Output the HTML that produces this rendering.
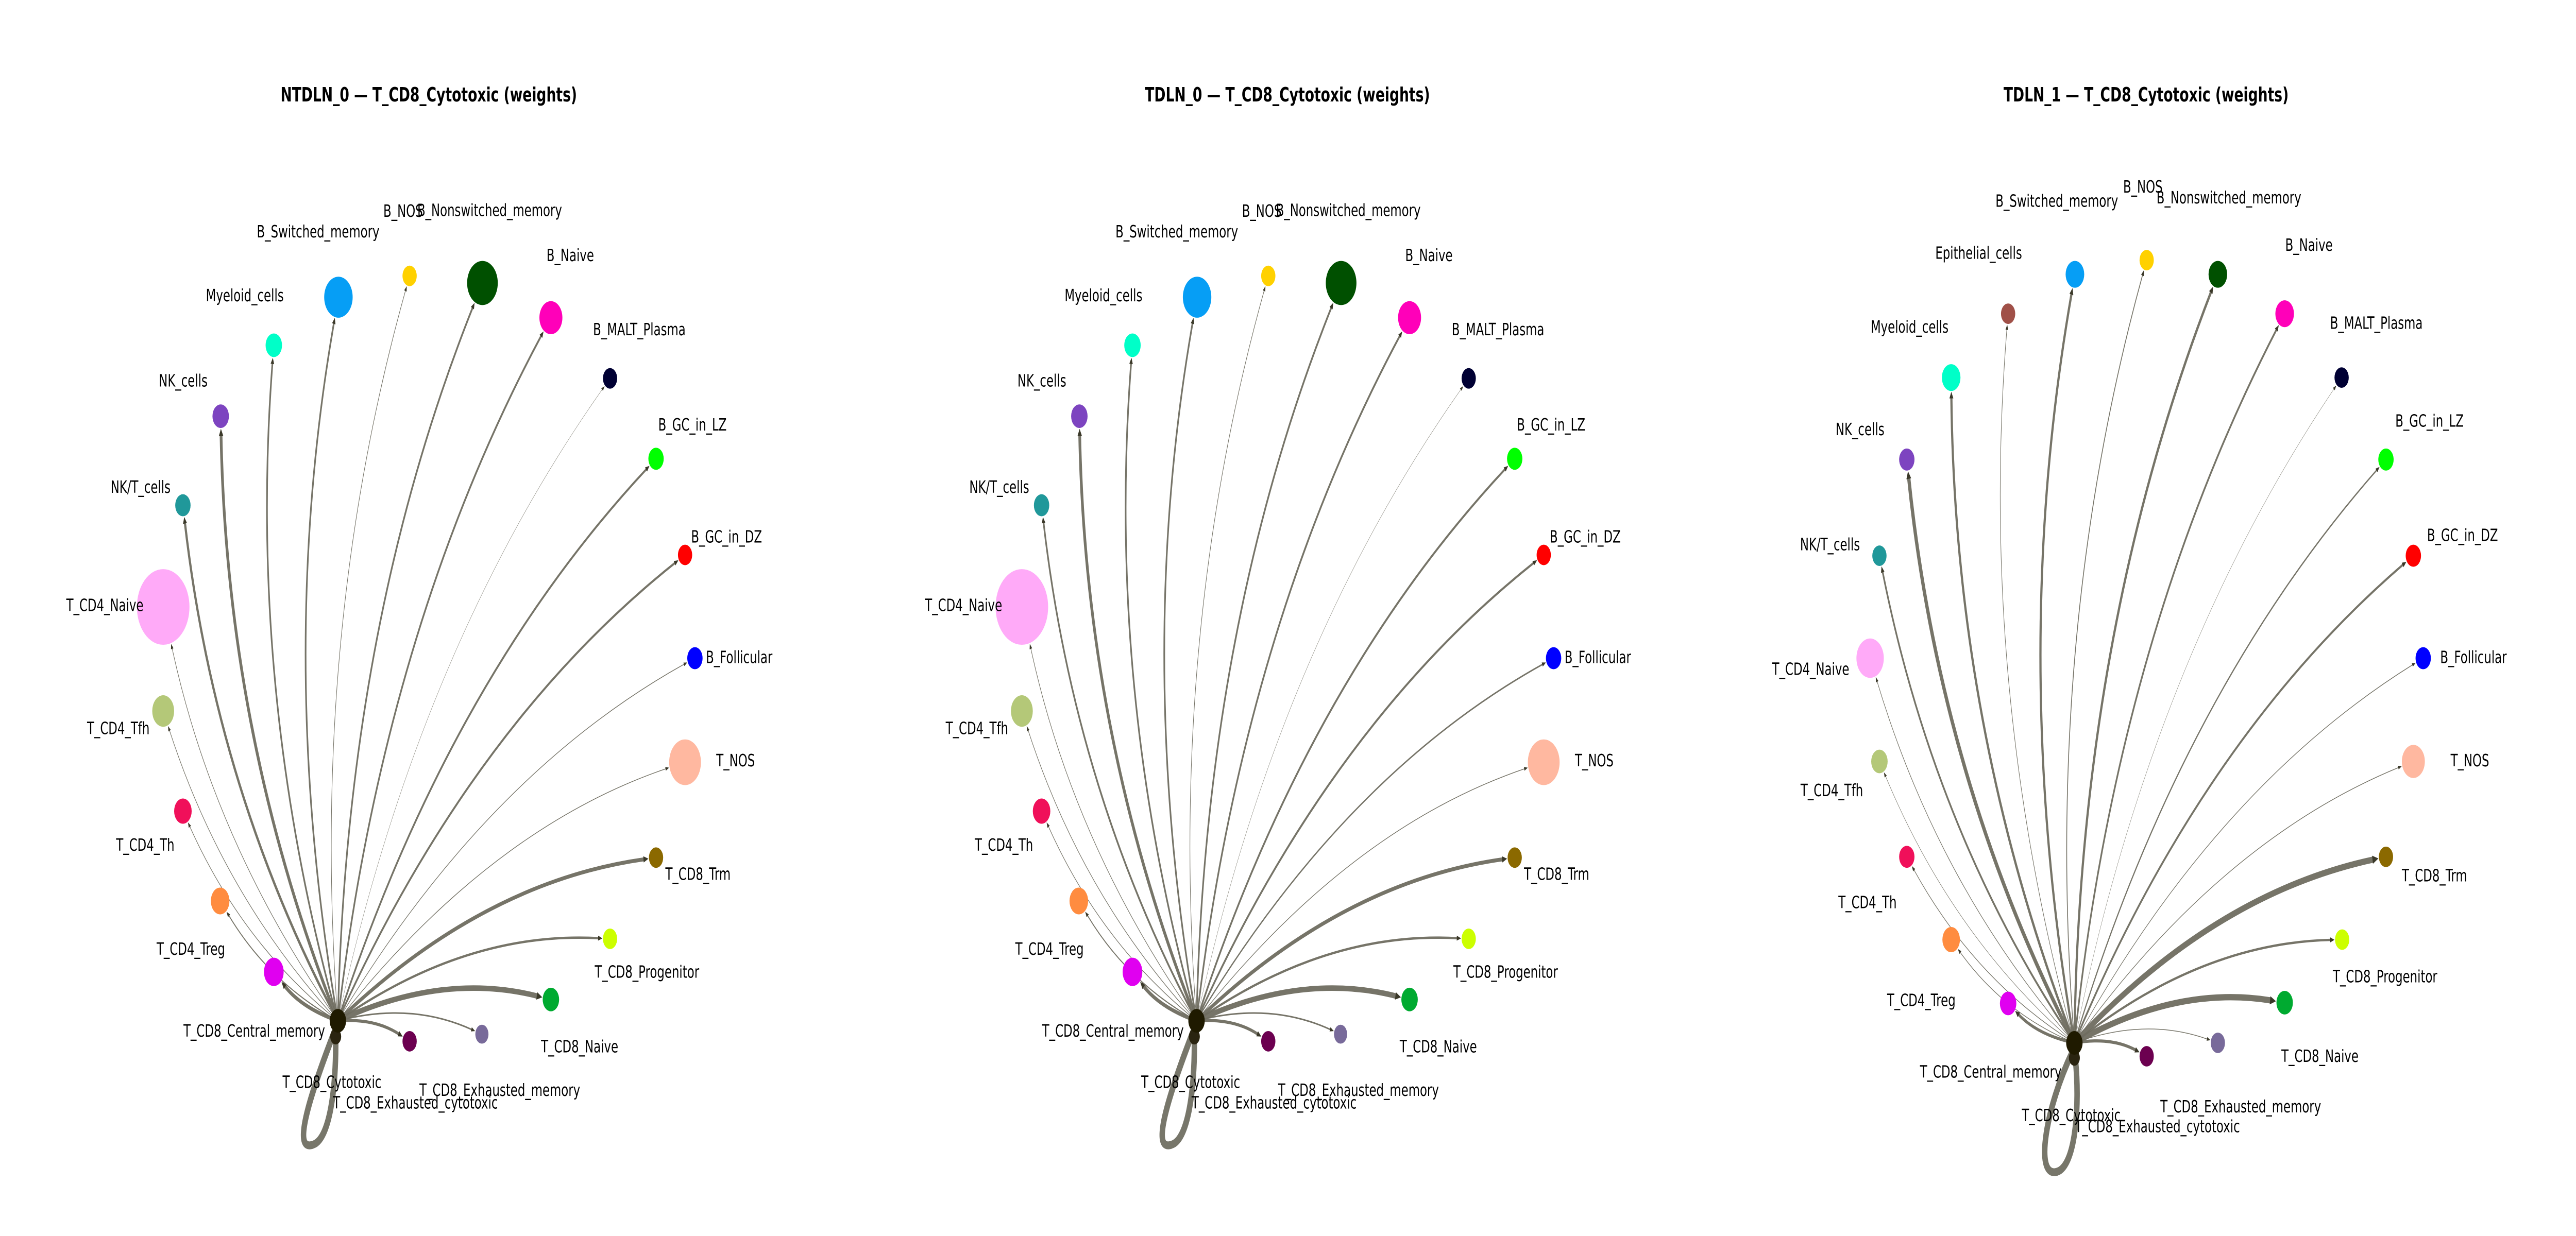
<!DOCTYPE html>
<html><head><meta charset="utf-8"><meta name="viewport" content="width=7200, initial-scale=1">
<style>
html,body{margin:0;padding:0;background:#fff;width:100%;height:100%;overflow:hidden;}
svg{display:block;position:absolute;left:0;top:0;width:100vw;height:100vh;}
text{font-family:"DejaVu Sans","Liberation Sans",sans-serif;font-size:21.5px;fill:#000;dominant-baseline:central;}
.t{font-size:25px;font-weight:bold;text-anchor:middle;}
</style></head><body>
<svg id="s" viewBox="0 0 7200 2400" preserveAspectRatio="none" xmlns="http://www.w3.org/2000/svg">
<g id="p1" transform="translate(0,0) scale(1.5306)">
<g class="e"></g>
<text class="t" x="783" y="120">NTDLN_0 — T_CD8_Cytotoxic (weights)</text>
<text x="469" y="294">B_Switched_memory</text><text x="700" y="268">B_NOS</text><text x="762" y="267">B_Nonswitched_memory</text>
<text x="998" y="324">B_Naive</text><text x="1083" y="418">B_MALT_Plasma</text><text x="1202" y="539">B_GC_in_LZ</text>
<text x="1262" y="681">B_GC_in_DZ</text><text x="1289" y="834">B_Follicular</text><text x="1308" y="965">T_NOS</text>
<text x="1215" y="1109">T_CD8_Trm</text><text x="1086" y="1233">T_CD8_Progenitor</text><text x="988" y="1328">T_CD8_Naive</text>
<text x="766" y="1383">T_CD8_Exhausted_memory</text><text x="608" y="1399">T_CD8_Exhausted_cytotoxic</text><text x="516" y="1373">T_CD8_Cytotoxic</text>
<text x="335" y="1308">T_CD8_Central_memory</text><text x="286" y="1204">T_CD4_Treg</text><text x="212" y="1072">T_CD4_Th</text>
<text x="159" y="924">T_CD4_Tfh</text><text x="121" y="768">T_CD4_Naive</text><text x="202" y="618">NK/T_cells</text>
<text x="290" y="483">NK_cells</text><text x="376" y="375">Myeloid_cells</text>
</g>
<g id="p2" transform="translate(2400,0) scale(1.5306)">
<g class="e"></g>
<text class="t" x="783" y="120">TDLN_0 — T_CD8_Cytotoxic (weights)</text>
<text x="469" y="294">B_Switched_memory</text><text x="700" y="268">B_NOS</text><text x="762" y="267">B_Nonswitched_memory</text>
<text x="998" y="324">B_Naive</text><text x="1083" y="418">B_MALT_Plasma</text><text x="1202" y="539">B_GC_in_LZ</text>
<text x="1262" y="681">B_GC_in_DZ</text><text x="1289" y="834">B_Follicular</text><text x="1308" y="965">T_NOS</text>
<text x="1215" y="1109">T_CD8_Trm</text><text x="1086" y="1233">T_CD8_Progenitor</text><text x="988" y="1328">T_CD8_Naive</text>
<text x="766" y="1383">T_CD8_Exhausted_memory</text><text x="608" y="1399">T_CD8_Exhausted_cytotoxic</text><text x="516" y="1373">T_CD8_Cytotoxic</text>
<text x="335" y="1308">T_CD8_Central_memory</text><text x="286" y="1204">T_CD4_Treg</text><text x="212" y="1072">T_CD4_Th</text>
<text x="159" y="924">T_CD4_Tfh</text><text x="121" y="768">T_CD4_Naive</text><text x="202" y="618">NK/T_cells</text>
<text x="290" y="483">NK_cells</text><text x="376" y="375">Myeloid_cells</text>
</g>
<g id="p3" transform="translate(4800,0) scale(1.5306)">
<g class="e"></g>
<text class="t" x="783" y="120">TDLN_1 — T_CD8_Cytotoxic (weights)</text>
<text x="398" y="321">Epithelial_cells</text>
<text x="508" y="255">B_Switched_memory</text><text x="741" y="237">B_NOS</text><text x="802" y="251">B_Nonswitched_memory</text>
<text x="1037" y="311">B_Naive</text><text x="1119" y="410">B_MALT_Plasma</text><text x="1238" y="534">B_GC_in_LZ</text>
<text x="1296" y="679">B_GC_in_DZ</text><text x="1320" y="834">B_Follicular</text><text x="1339" y="965">T_NOS</text>
<text x="1250" y="1111">T_CD8_Trm</text><text x="1124" y="1239">T_CD8_Progenitor</text><text x="1030" y="1340">T_CD8_Naive</text>
<text x="809" y="1404">T_CD8_Exhausted_memory</text><text x="653" y="1429">T_CD8_Exhausted_cytotoxic</text><text x="556" y="1415">T_CD8_Cytotoxic</text>
<text x="370" y="1360">T_CD8_Central_memory</text><text x="310" y="1269">T_CD4_Treg</text><text x="221" y="1145">T_CD4_Th</text>
<text x="152" y="1003">T_CD4_Tfh</text><text x="100" y="849">T_CD4_Naive</text><text x="151" y="691">NK/T_cells</text>
<text x="216" y="545">NK_cells</text><text x="280" y="415">Myeloid_cells</text>
</g>
</svg>
<script>
(function(){
var NS="http://www.w3.org/2000/svg";
function mk(t,a,p){var e=document.createElementNS(NS,t);for(var k in a)e.setAttribute(k,a[k]);p.appendChild(e);return e;}
var A=[
[618,377,26,"#069ef5",3],[748,350,13,"#ffd100",1],[881,359,28,"#005000",3],[1006,403,21,"#ff00b9",3],
[1114,480,13,"#000033",0.5],[1198,582,14,"#00ff00",3],[1251,704,13,"#ff0000",3],[1269,835,14,"#0000ff",1],
[1251,967,29,"#ffb8a0",1],[1198,1088,13,"#8b6900",5],[1114,1191,13,"#ccff00",3],[1006,1268,15,"#00aa30",7],
[880,1312,12,"#786a9a",2],[748,1321,13,"#6c0050",4],[500,1233,18,"#e000f0",5],[402,1143,17,"#ff8c40",1.5],
[334,1029,16,"#f0105a",1],[298,902,20,"#b4c878",1],[298,770,48,"#ffaaf8",1],[334,641,14,"#20989a",4],
[403,528,15,"#7d44c0",5],[500,438,15,"#00ffc8",3]];
var B=JSON.parse(JSON.stringify(A));B[7][4]=2;B[19][4]=3;
var Cc=[
[531,398,13,"#a05048",1],[653,348,17,"#069ef5",4],[784,330,13,"#ffd100",1.5],[914,348,17,"#005000",4],[1036,398,17,"#ff00b9",3],
[1140,479,13,"#000033",0.5],[1221,583,14,"#00ff00",2],[1271,705,14,"#ff0000",3],[1289,835,14,"#0000ff",1],
[1271,966,21,"#ffb8a0",1],[1221,1087,13,"#8b6900",8],[1141,1192,13,"#ccff00",3],[1036,1272,15,"#00aa30",8],
[914,1323,13,"#786a9a",1],[784,1340,13,"#6c0050",4],[531,1273,15,"#e000f0",4],[427,1192,16,"#ff8c40",1],
[346,1087,14,"#f0105a",1],[296,966,15,"#b4c878",0.7],[279,835,25,"#ffaaf8",1],[296,705,13,"#20989a",3],
[346,583,14,"#7d44c0",6],[427,479,17,"#00ffc8",4]];
function draw(id,cx,cy,nodes,loop,hub2){
 var g=document.querySelector("#"+id+" .e");
 mk("path",{d:loop,fill:"none",stroke:"#77766a",'stroke-width':10,'stroke-linecap':"round"},g);
 nodes.forEach(function(n){
  var x=n[0],y=n[1],r=n[2],w=n[4],dx=x-cx,dy=y-cy,f=0.125;
  var qx=(cx+x)/2+f*dy,qy=(cy+y)/2-f*dx;
  var ux=x-qx,uy=y-qy,L=Math.hypot(ux,uy);ux/=L;uy/=L;
  var px=x-ux*(r+1),py=y-uy*(r+1);
  var al=6+w*0.6,aw=2+w*0.4;
  var bx=px-ux*al*0.8,by=py-uy*al*0.8;
  mk("path",{d:"M"+cx+","+cy+" Q"+qx+","+qy+" "+bx+","+by,fill:"none",stroke:"#6f6d60",'stroke-width':w,'stroke-opacity':0.95},g);
  var hx=px-ux*al,hy=py-uy*al;
  mk("polygon",{points:px+","+py+" "+(hx-uy*aw)+","+(hy+ux*aw)+" "+(hx+uy*aw)+","+(hy-ux*aw),fill:"#3a3828"},g);
 });
 nodes.forEach(function(n){mk("circle",{cx:n[0],cy:n[1],r:n[2],fill:n[3]},g);});
 mk("circle",{cx:hub2[0],cy:hub2[1],r:10,fill:"#2a2410"},g);
 mk("circle",{cx:cx,cy:cy,r:15,fill:"#1f1a00"},g);
}
var L1="M610,1310 C560,1400 535,1462 572,1452 C602,1445 614,1380 613,1318";
draw("p1",617,1295,A,L1,[613,1315]);
draw("p2",617,1295,B,L1,[613,1315]);
draw("p3",652,1323,Cc,"M648,1335 C600,1405 580,1490 617,1487 C655,1484 662,1400 654,1345",[652,1342]);
})();
</script>
</body></html>
